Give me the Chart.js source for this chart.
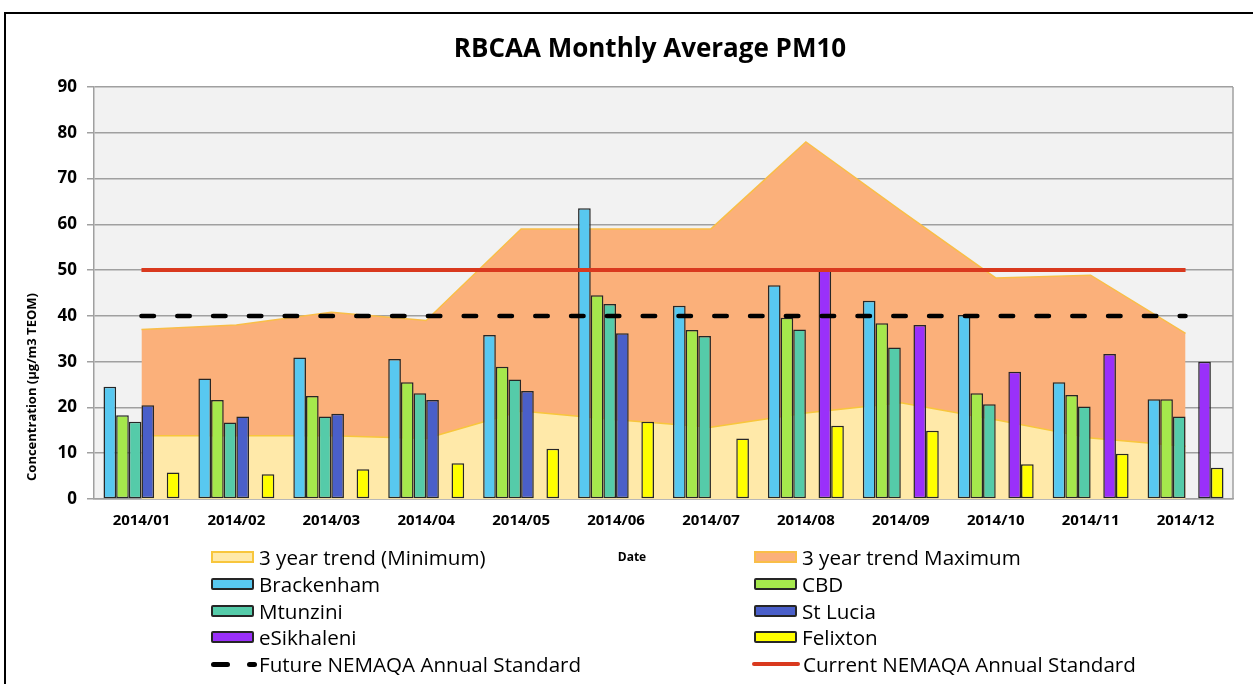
<!DOCTYPE html>
<html>
<head>
<meta charset="utf-8">
<title>RBCAA Monthly Average PM10</title>
<script src="https://cdn.jsdelivr.net/npm/chart.js@4.4.0/dist/chart.umd.min.js"></script>
<style>
    html, body { margin: 0; padding: 0; background: #fff; overflow: hidden; }
    body { position: relative; width: 1253px; height: 684px; font-family: "Open Sans", sans-serif; color: #000; }
    .frame { position: absolute; left: 4px; top: 12px; width: 1300px; height: 800px; border: 2px solid #000; }
    #chart { position: absolute; left: 0; top: 0; }
    .chart-title { position: absolute; left: 400px; width: 500px; top: 31px; text-align: center; font-weight: bold; font-size: 26px; line-height: 32px; }
    .y-title { position: absolute; left: -89px; top: 378px; width: 240px; height: 18px; line-height: 18px; text-align: center; font-weight: bold; font-size: 13px; transform: rotate(-90deg); white-space: nowrap; }
    .x-title { position: absolute; left: 602px; top: 549px; width: 60px; line-height: 16px; text-align: center; font-weight: bold; font-size: 12px; }
    .legend-item { position: absolute; height: 26px; display: flex; align-items: center; font-size: 20.6px; white-space: nowrap; }
    .swatch { position: relative; width: 43px; height: 12px; box-sizing: border-box; margin-right: 5px; flex: none; }
</style>
</head>
<body>
<div class="frame"></div>
<canvas id="chart" width="1253" height="684"></canvas>
<div class="chart-title">RBCAA Monthly Average PM10</div>
<div class="y-title">Concentration (µg/m3 TEOM)</div>
<div class="x-title">Date</div>
<div id="legend"></div>

<script>
// RBCAA monthly average PM10, 2014
const months = ['2014/01', '2014/02', '2014/03', '2014/04', '2014/05', '2014/06',
                '2014/07', '2014/08', '2014/09', '2014/10', '2014/11', '2014/12'];

const trendMin = [13.8, 13.8, 13.8, 13.2, 19.2, 17.3, 15.7, 18.8, 21.0, 17.3, 13.3, 11.5];
const trendMax = [37.0, 38.0, 40.8, 39.0, 59.0, 59.0, 59.0, 78.0, 63.0, 48.3, 48.9, 36.2];

const brackenham = [24.5, 26.3, 30.9, 30.6, 35.8, 63.5, 42.2, 46.7, 43.3, 40.2, 25.5, 21.8];
const cbd        = [18.3, 21.6, 22.5, 25.5, 28.9, 44.5, 36.9, 39.6, 38.4, 23.1, 22.7, 21.8];
const mtunzini   = [16.9, 16.7, 18.0, 23.1, 26.1, 42.6, 35.6, 37.0, 33.1, 20.7, 20.2, 18.0];
const stLucia    = [20.5, 18.0, 18.6, 21.6, 23.6, 36.2, null, null, null, null, null, null];
const eSikhaleni = [null, null, null, null, null, null, null, 50.0, 38.0, 27.8, 31.7, 30.0];
const felixton   = [5.8, 5.4, 6.5, 7.8, 11.0, 16.9, 13.2, 16.0, 14.9, 7.6, 9.9, 6.8];

const futureStd  = [40, 40, 40, 40, 40, 40, 40, 40, 40, 40, 40, 40];
const currentStd = [50, 50, 50, 50, 50, 50, 50, 50, 50, 50, 50, 50];

const yTicks = { min: 0, max: 90, step: 10 };

const AXIS_GREY = '#A0A0A0';
const BAR_EDGE = '#262626';

function bar(label, data, color) {
    return {
        type: 'bar', label, data,
        backgroundColor: color,
        borderColor: BAR_EDGE,
        borderWidth: 1.5,
        borderSkipped: false,
        categoryPercentage: 0.8,
        barPercentage: 1.0,
        order: 2
    };
}

// plot area fill + right edge
const plotBackground = {
    id: 'plotBackground',
    beforeDraw(chart) {
        const { ctx, chartArea: a } = chart;
        ctx.save();
        ctx.fillStyle = '#F2F2F2';
        ctx.fillRect(a.left, a.top, a.width, a.height);
        ctx.strokeStyle = AXIS_GREY;
        ctx.lineWidth = 1.5;
        ctx.beginPath();
        ctx.moveTo(a.right, a.top);
        ctx.lineTo(a.right, a.bottom);
        ctx.stroke();
        ctx.restore();
    }
};

// datasets listed in legend order (row by row, two columns)
const datasets = [
    { type: 'line', label: '3 year trend (Minimum)', data: trendMin, backgroundColor: '#FFE9A9',
      borderColor: '#F8C63C', borderWidth: 1.5, fill: 'origin', pointRadius: 0, tension: 0, order: 3 },
    { type: 'line', label: '3 year trend Maximum', data: trendMax, backgroundColor: '#FBB07A',
      borderColor: '#F9BE48', borderWidth: 1.5, fill: 'origin', pointRadius: 0, tension: 0, order: 4 },
    bar('Brackenham', brackenham, '#58C8F0'),
    bar('CBD', cbd, '#A5E84C'),
    bar('Mtunzini', mtunzini, '#55CBA9'),
    bar('St Lucia', stLucia, '#4A5FC9'),
    bar('eSikhaleni', eSikhaleni, '#9A30FA'),
    bar('Felixton', felixton, '#FFFF00'),
    { type: 'line', label: 'Future NEMAQA Annual Standard', data: futureStd, borderColor: '#000',
      borderWidth: 4.5, borderDash: [12.5, 23.3], borderCapStyle: 'round', fill: false, pointRadius: 0, order: 1 },
    { type: 'line', label: 'Current NEMAQA Annual Standard', data: currentStd, borderColor: '#D9391E',
      borderWidth: 4, fill: false, pointRadius: 0, order: 0 }
];

const chart = new Chart(document.getElementById('chart'), {
    type: 'bar',
    data: { labels: months, datasets },
    options: {
        responsive: false,
        animation: false,
        layout: { padding: { top: 87, right: 20, bottom: 155, left: 0 } },
        plugins: {
            legend: { display: false },
            title: { display: false },
            tooltip: { enabled: false }
        },
        scales: {
            x: {
                grid: { display: false, drawTicks: false },
                border: { color: AXIS_GREY, width: 1.5 },
                ticks: { padding: 13, color: '#000', maxRotation: 0, autoSkip: false,
                         font: { family: 'Open Sans', weight: 'bold', size: 15 } },
                afterFit(scale) { scale.height = 30; }
            },
            y: {
                min: yTicks.min,
                max: yTicks.max,
                ticks: { stepSize: yTicks.step, padding: 10, color: '#000',
                         font: { family: 'Open Sans', weight: 'bold', size: 17 } },
                grid: { color: AXIS_GREY, lineWidth: 1.5, tickLength: 7 },
                border: { color: AXIS_GREY, width: 1.5 },
                afterFit(scale) { scale.width = 94; }
            }
        }
    },
    plugins: [plotBackground]
});

// html legend, two columns
function buildLegend() {
    const colX = [211, 754];
    const rowY = [557, 584, 611, 637, 664];
    const box = document.getElementById('legend');
    chart.data.datasets.forEach((ds, i) => {
        const item = document.createElement('div');
        item.className = 'legend-item';
        item.style.left = colX[i % 2] + 'px';
        item.style.top = (rowY[Math.floor(i / 2)] - 13) + 'px';

        const sw = document.createElement('div');
        sw.className = 'swatch';
        if (ds.type === 'line' && ds.fill) {
            sw.style.background = ds.backgroundColor;
            sw.style.border = '2px solid ' + ds.borderColor;
        } else if (ds.type === 'line' && ds.borderDash) {
            sw.style.width = '46px';
            sw.style.marginRight = '2px';
            sw.innerHTML = '<span style="position:absolute;left:0;top:4px;width:19px;height:5px;border-radius:3px;background:#000"></span>' +
                           '<span style="position:absolute;left:36px;top:4px;width:10px;height:5px;border-radius:3px;background:#000"></span>';
        } else if (ds.type === 'line') {
            sw.style.width = '48px';
            sw.style.marginLeft = '-2px';
            sw.style.marginRight = '3px';
            sw.innerHTML = '<span style="position:absolute;left:0;top:4px;width:48px;height:4px;border-radius:2px;background:' + ds.borderColor + '"></span>';
        } else {
            sw.style.background = ds.backgroundColor;
            sw.style.border = '2px solid ' + BAR_EDGE;
            sw.style.borderRadius = '2px';
        }

        const txt = document.createElement('span');
        txt.textContent = ds.label;
        item.appendChild(sw);
        item.appendChild(txt);
        box.appendChild(item);
    });
}
buildLegend();
</script>
</body>
</html>
